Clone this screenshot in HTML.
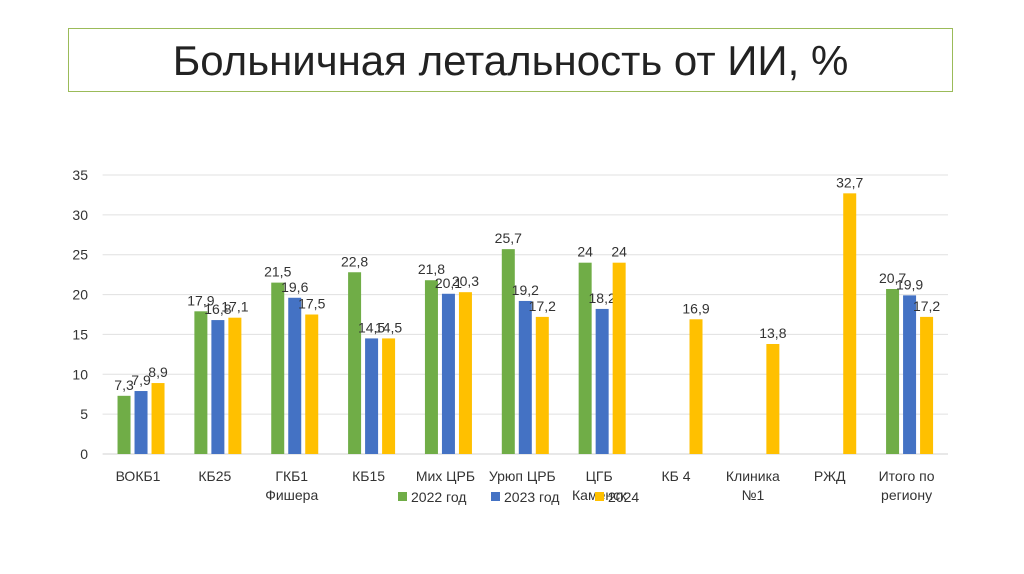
<!DOCTYPE html>
<html><head><meta charset="utf-8"><style>
body{margin:0;width:1024px;height:574px;background:#fff;font-family:"Liberation Sans","DejaVu Sans",sans-serif;overflow:hidden}
#title{position:absolute;left:68px;top:28px;width:885px;height:64px;border:1px solid #9bbb59;box-sizing:border-box;text-align:center;font-size:42px;line-height:64px;color:#222}
svg{position:absolute;left:0;top:0}
text{font-family:"Liberation Sans","DejaVu Sans",sans-serif;fill:#333}
</style></head><body>
<div id="title">Больничная летальность от ИИ, %</div>
<svg id="c" width="1024" height="574"></svg>
<script>
const categories=[["ВОКБ1"],["КБ25"],["ГКБ1","Фишера"],["КБ15"],["Мих ЦРБ"],["Урюп ЦРБ"],["ЦГБ","Каменск"],["КБ 4"],["Клиника","№1"],["РЖД"],["Итого по","региону"]];
const s2022=[7.3,17.9,21.5,22.8,21.8,25.7,24,null,null,null,20.7];
const s2023=[7.9,16.8,19.6,14.5,20.1,19.2,18.2,null,null,null,19.9];
const s2024=[8.9,17.1,17.5,14.5,20.3,17.2,24,16.9,13.8,32.7,17.2];
const yTicks=[0,5,10,15,20,25,30,35];
const seriesNames=["2022 год","2023 год","2024"];
const colors=["#70ad47","#4472c4","#ffc000"];
const svg=document.getElementById('c'),NS="http://www.w3.org/2000/svg";
const L=102.6,R=948,Y0=454,Y35=175,band=(R-L)/categories.length;
const y=v=>Y0-(v/35)*(Y0-Y35);
const xc=i=>L+band*(i+0.5);
function mk(t,a,txt){const e=document.createElementNS(NS,t);for(const k in a)e.setAttribute(k,a[k]);if(txt!=null)e.textContent=txt;svg.appendChild(e);return e;}
yTicks.forEach(t=>{
 const g=mk('line',{x1:L,x2:R,y1:y(t),y2:y(t),stroke:t?'#e0e0e0':'#d0d0d0','stroke-width':1});
 
 
 const l=mk('text',{x:88,y:y(t)+5,'text-anchor':'end','font-size':14},String(t));
 
 
});
[s2022,s2023,s2024].forEach((s,si)=>{
 s.forEach((v,i)=>{
  if(v==null)return;
  const x=xc(i)-23.5+si*17;
  const b=mk('rect',{x:x,y:y(v),width:13,height:Y0-y(v),fill:colors[si]});
  
  
  const t=mk('text',{x:x+6.5,y:y(v)-6,'text-anchor':'middle','font-size':14},String(v).replace('.',','));
  
  
 });
});
categories.forEach((c,i)=>{
 c.forEach((ln,j)=>{
  const t=mk('text',{x:xc(i)-3,y:481+j*19,'text-anchor':'middle','font-size':14},ln);
  
  
 });
});
const lx=[398,491,595];
seriesNames.forEach((n,i)=>{
 const r=mk('rect',{x:lx[i],y:492,width:9,height:9,fill:colors[i]});
 
 
 const t=mk('text',{x:lx[i]+13,y:502,'font-size':14},n);
 
 
});
</script>
</body></html>
